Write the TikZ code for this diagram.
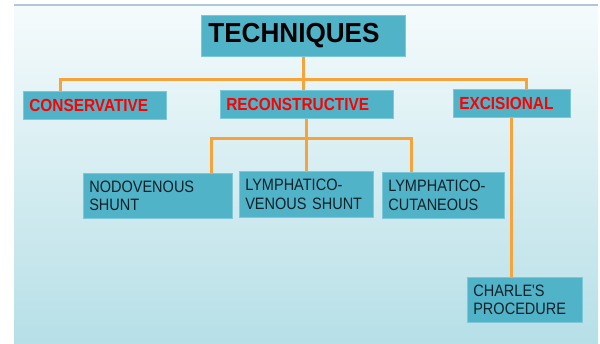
\documentclass[tikz,border=0pt]{standalone}
\usepackage{fontspec}
\setmainfont{Liberation Sans}
\newfontfamily\narrowfont[FakeStretch=0.88]{Liberation Sans}
\newfontfamily\titlefont[FakeStretch=0.95]{Liberation Sans}
\definecolor{bgtop}{RGB}{245,251,252}
\definecolor{bgbot}{RGB}{182,223,231}
\definecolor{bgline}{RGB}{178,198,214}
\definecolor{boxblue}{RGB}{80,179,200}
\definecolor{boxedge}{RGB}{125,200,216}
\definecolor{linkorange}{RGB}{248,163,58}
\definecolor{leaftext}{RGB}{18,32,40}
\tikzset{
  box/.style={fill=boxblue, draw=boxedge, line width=0.6pt, anchor=north west, inner xsep=6pt, inner ysep=0pt, align=left},
  head/.style={box, text=red, font=\narrowfont\fontsize{17.5}{20}\selectfont\bfseries},
  leaf/.style={box, text=leaftext, font=\narrowfont\fontsize{16.5}{18.3}\selectfont},
  link/.style={draw=linkorange, line width=3pt}
}
\begin{document}
\begin{tikzpicture}[x=1pt,y=-1pt]
\useasboundingbox (0,0) rectangle (600,344);
\shade[top color=bgtop, bottom color=bgbot] (14,5) rectangle (598,344);
\draw[bgline, line width=1.2pt] (14,5) -- (598,5);
\node[box, text width=190pt, minimum height=41pt, inner xsep=7pt, text=black, font=\titlefont\fontsize{27.5}{30}\selectfont\bfseries] (tech) at (201,15) {TECHNIQUES};
\node[head, text width=131pt, minimum height=28pt] (cons) at (23,91) {CONSERVATIVE};
\node[head, text width=161pt, minimum height=28pt] (reco) at (220,90) {RECONSTRUCTIVE};
\node[head, text width=105pt, minimum height=28pt] (exci) at (453,89) {EXCISIONAL};
\node[leaf, text width=137pt, minimum height=45pt] (nodo) at (83,173) {NODOVENOUS\\SHUNT};
\node[leaf, text width=122pt, minimum height=46pt] (lyve) at (239,171) {LYMPHATICO-\\VENOUS SHUNT};
\node[leaf, text width=110pt, minimum height=46pt] (lycu) at (382,172) {LYMPHATICO-\\CUTANEOUS};
\node[leaf, text width=103pt, minimum height=45pt] (char) at (467,277) {CHARLE'S\\PROCEDURE};
\draw[link] (tech.south) -- (tech.south |- reco.north);
\draw[link] ([xshift=-34.5pt]cons.north) -- ++(0,-11) -| ([xshift=14.5pt]exci.north);
\draw[link] (reco.south) -- (reco.south |- lyve.north);
\draw[link] ([xshift=54pt]nodo.north) -- ++(0,-34) -| ([xshift=-32pt]lycu.north);
\draw[link] (exci.south) -- (exci.south |- char.north);
\end{tikzpicture}
\end{document}
